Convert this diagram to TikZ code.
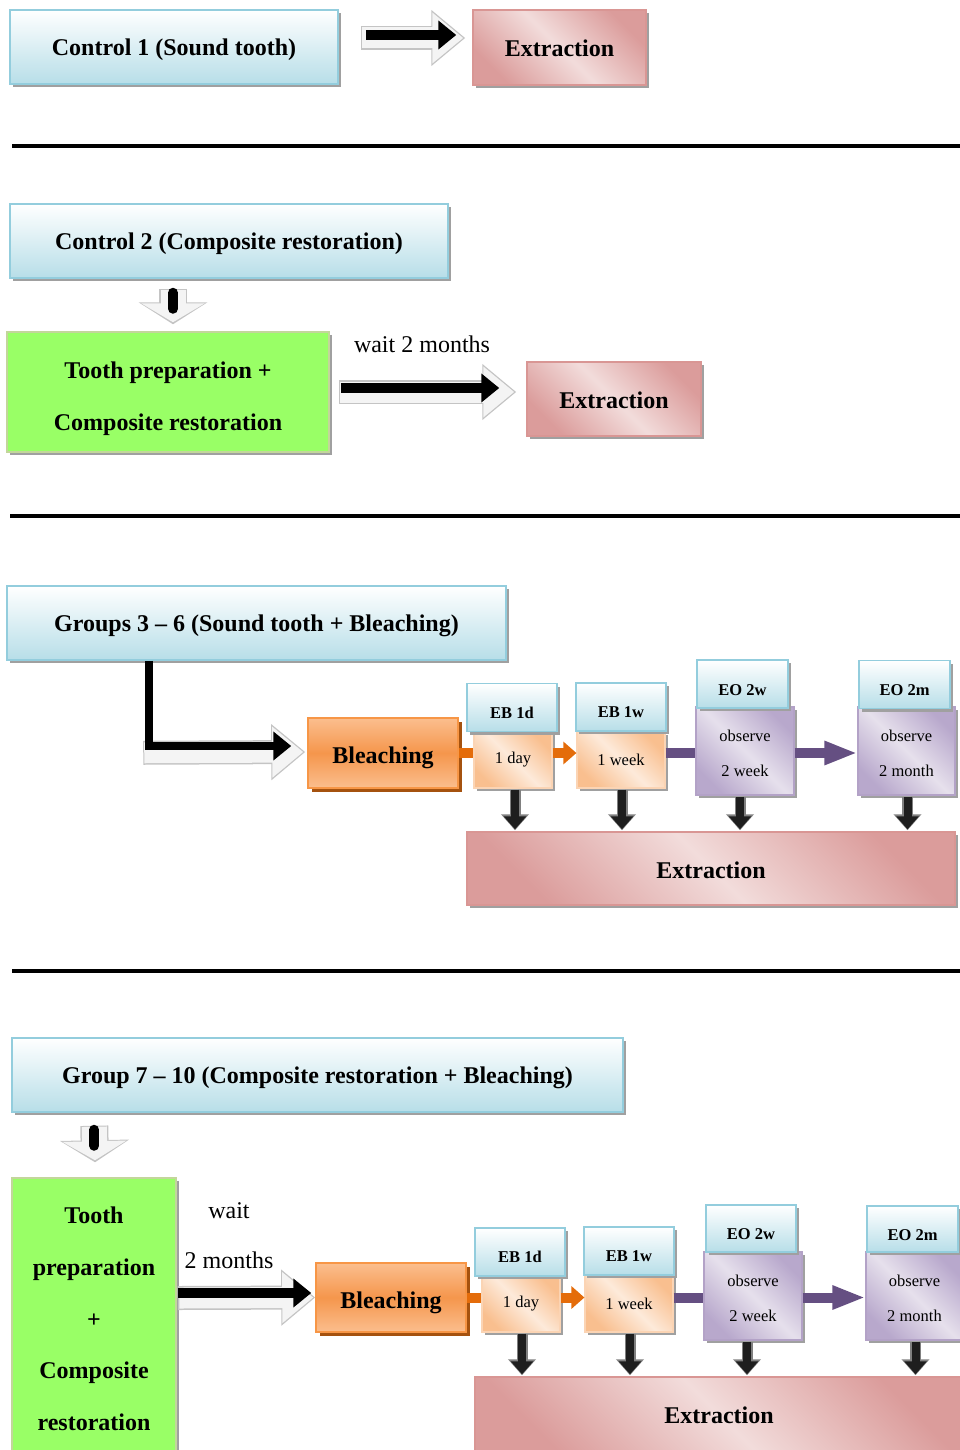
\documentclass[tikz,border=0pt]{standalone}
\usepackage{fontspec}
\setmainfont{Liberation Serif}
\usetikzlibrary{arrows.meta,shadows,calc}
\definecolor{blueB}{HTML}{93CDDD}
\definecolor{blueF}{HTML}{B7DEE8}
\definecolor{pinkB}{HTML}{D99694}
\definecolor{pinkD}{HTML}{DB9C9B}
\definecolor{pinkL}{HTML}{F2DCDB}
\definecolor{greenF}{HTML}{99FF66}
\definecolor{greenB}{HTML}{C3D69B}
\definecolor{orB}{HTML}{F79646}
\definecolor{orS}{HTML}{A5520F}
\definecolor{orT}{HTML}{FBBE8E}
\definecolor{orM}{HTML}{F5964C}
\definecolor{peB}{HTML}{FBD4B4}
\definecolor{peD}{HTML}{F9BF8F}
\definecolor{peL}{HTML}{FDEADA}
\definecolor{lvB}{HTML}{B3A2C7}
\definecolor{lvD}{HTML}{B8A8CC}
\definecolor{lvL}{HTML}{E6E0EC}
\definecolor{puL}{HTML}{654F82}
\definecolor{orL}{HTML}{E46C0A}
\definecolor{shG}{HTML}{A0A0A0}
\definecolor{lgtB}{HTML}{C4C4C4}
\definecolor{lgtF}{HTML}{F4F4F4}
\definecolor{dk}{HTML}{1E1E1E}
\newcommand\lowtxt[2][5pt]{\raisebox{-#1}[\height][\depth]{#2}}
\begin{document}
\begin{tikzpicture}[x=1pt,y=-1pt,
  every node/.style={inner sep=0pt, align=center},
  shd/.style={drop shadow={shadow xshift=3pt,shadow yshift=-3pt,fill=shG,opacity=1}},
  big/.style={font=\bfseries\fontsize{24}{28}\selectfont},
  reg/.style={font=\fontsize{24}{50}\selectfont},
  small/.style={font=\fontsize{16.5}{35}\selectfont},
  smallb/.style={font=\bfseries\fontsize{16.5}{20}\selectfont},
  bluebox/.style={shd, draw=blueB, line width=1.5pt, top color=white, bottom color=blueF},
  pinkbox/.style={shd, draw=pinkB, line width=1.5pt, top color=pinkD, bottom color=pinkD, middle color=pinkL, shading angle=-45, big},
  greenbox/.style={shd, draw=greenB, line width=1.5pt, fill=greenF},
  orbox/.style={drop shadow={shadow xshift=4pt,shadow yshift=-4pt,fill=orS,opacity=1}, draw=orB, line width=1.5pt, top color=orT, bottom color=orT, middle color=orM, big},
  pebox/.style={shd, draw=peB, line width=1.2pt, top color=peD, bottom color=peD, middle color=peL, shading angle=-45, small},
  lvbox/.style={shd, draw=lvB, line width=1.2pt, top color=lvD, bottom color=lvD, middle color=lvL, shading angle=-45, small},
  hdbox/.style={bluebox, smallb, minimum width=90pt, minimum height=48pt},
  sepline/.style={draw=black, line width=4pt},
  blk/.style={draw=black, line width=10pt, -{Triangle[length=18pt,width=28pt]}},
  lgtO/.style={draw=lgtB, line width=24pt, -{Triangle[length=34pt,width=54pt]}},
  lgtI/.style={draw=lgtF, line width=21pt, -{Triangle[length=31pt,width=49pt]}},
  dnO/.style={draw=lgtB, line width=28pt, -{Triangle[length=22pt,width=68pt]}},
  dnI/.style={draw=lgtF, line width=25pt, -{Triangle[length=19pt,width=63pt]}},
  dwnO/.style={draw=gray, line width=11pt, -{Triangle[length=16pt,width=27pt]}},
  dwnI/.style={draw=dk, line width=8pt, -{Triangle[length=13pt,width=22pt]}},
  orln/.style={draw=orL, line width=10pt},
  puln/.style={draw=puL, line width=10pt},
]
\useasboundingbox (0,0) rectangle (960,1450);

% separators
\draw[sepline] (12,146) -- (960,146);
\draw[sepline] (10,516) -- (960,516);
\draw[sepline] (12,971) -- (960,971);

% ---------- section 1
\node[bluebox,big,minimum width=328pt,minimum height=74pt] (c1) at (174,47) {\lowtxt[3pt]{Control 1 (Sound tooth)}};
\node[pinkbox,minimum width=173pt,minimum height=75pt] (ex1) at (559.5,47.5) {\lowtxt[1pt]{Extraction}};
\draw[lgtO] ($(c1.east)+(22,-9)$) -- ($(ex1.west)+(-7,-9.5)$);
\draw[lgtI] ($(c1.east)+(23.5,-9)$) -- ($(ex1.west)+(-9,-9.5)$);
\draw[blk] ($(c1.east)+(27,-12)$) -- ($(ex1.west)+(-16,-12.5)$);

% ---------- section 2
\node[bluebox,big,minimum width=438pt,minimum height=74pt] (c2) at (229,241) {\lowtxt[3pt]{Control 2 (Composite restoration)}};
\node[greenbox,font=\bfseries\fontsize{24}{52}\selectfont,minimum width=322pt,minimum height=120pt] (tp1) at (168,392) {\lowtxt[7pt]{\parbox{300pt}{\centering Tooth preparation +\\Composite restoration}}};
\node[reg] (w1) at (422,344) {wait 2 months};
\node[pinkbox,minimum width=174pt,minimum height=74pt] (ex2) at (614,399) {\lowtxt[1pt]{Extraction}};
\draw[dnO] ($(c2.south)+(-56,10)$) -- ($(tp1.north)+(5,-7)$);
\draw[dnI] ($(c2.south)+(-56,11)$) -- ($(tp1.north)+(5,-9)$);
\draw[draw=black, line width=10pt, line cap=round] ($(c2.south)+(-56,14)$) -- ($(c2.south)+(-56,30)$);
\draw[lgtO] ($(tp1.east)+(9,0)$) -- ($(ex2.west)+(-10,-7)$);
\draw[lgtI] ($(tp1.east)+(10.5,0)$) -- ($(ex2.west)+(-12,-7)$);
\draw[blk] ($(tp1.east)+(11,-4)$) -- ($(ex2.west)+(-27,-11)$);

% ---------- section 3
\node[bluebox,big,minimum width=499pt,minimum height=74pt] (g3) at (256.5,623) {\lowtxt[3pt]{Groups 3 – 6 (Sound tooth + Bleaching)}};
\node[orbox,minimum width=150pt,minimum height=70pt] (bl1) at (383,753) {\lowtxt[5pt]{Bleaching}};
\node[pebox,minimum width=78pt,minimum height=56pt] (d1) at (513,760) {1 day};
\node[hdbox] (h1) at (512,707.5) {\lowtxt{EB 1d}};
\node[pebox,minimum width=88pt,minimum height=56pt] (d2) at (621,760) {1 week};
\node[hdbox] (h2) at (621,707) {\lowtxt{EB 1w}};
\node[lvbox,minimum width=98pt,minimum height=88pt] (o1) at (745,751) {\lowtxt[2pt]{\parbox{90pt}{\centering observe\\2 week}}};
\node[hdbox,minimum width=91pt] (h3) at (742.5,684) {\lowtxt[6pt]{EO 2w}};
\node[lvbox,minimum width=97pt,minimum height=88pt] (o2) at (906.5,751) {\lowtxt[2pt]{\parbox{90pt}{\centering observe\\2 month}}};
\node[hdbox,minimum width=91pt] (h4) at (904.5,684.5) {\lowtxt[6pt]{EO 2m}};
\node[pinkbox,minimum width=488pt,minimum height=73pt] (ex3) at (711,868.5) {\lowtxt[2pt]{Extraction}};

\draw[lgtO] ($(g3.south west)+(137,92)$) -- ($(bl1.west)+(-2,-1)$);
\draw[lgtI] ($(g3.south west)+(138,92)$) -- ($(bl1.west)+(-4,-1)$);
\draw[blk, line width=8pt] ($(g3.south west)+(143,0)$) |- ($(bl1.west)+(-16,-7)$);

\draw[orln] (bl1.east) -- (bl1.east -| d1.west);
\draw[orln, -{Triangle[length=13pt,width=22pt]}] (bl1.east -| d1.east) -- (bl1.east -| d2.west);
\draw[puln] (bl1.east -| d2.east) -- (bl1.east -| o1.west);
\draw[puln, -{Triangle[length=33pt,width=22pt]}] (bl1.east -| o1.east) -- (bl1.east -| o2.west);

\foreach \n/\dx in {d1/2,d2/1,o1/-5,o2/1}{
  \draw[dwnO] ($(\n.south)+(\dx,1)$) -- ($(\n.south |- ex3.north)+(\dx,-1)$);
  \draw[dwnI] ($(\n.south)+(\dx,1)$) -- ($(\n.south |- ex3.north)+(\dx,-2)$);
}

% ---------- section 4
\node[bluebox,big,minimum width=611pt,minimum height=74pt] (g7) at (317.5,1075) {\lowtxt[3pt]{Group 7 – 10 (Composite restoration + Bleaching)}};
\node[greenbox,font=\bfseries\fontsize{24}{51.75}\selectfont,minimum width=164pt,minimum height=282pt] (tp2) at (94,1319) {Tooth\\preparation\\+\\Composite\\restoration};
\node[reg] (w2) at (229,1236) {wait\\2 months};
\node[orbox,minimum width=150pt,minimum height=69pt] (bl2) at (391,1297.5) {\lowtxt[5pt]{Bleaching}};
\node[pebox,minimum width=78pt,minimum height=56pt] (d3) at (521,1304) {1 day};
\node[hdbox] (h5) at (520,1252) {\lowtxt{EB 1d}};
\node[pebox,minimum width=88pt,minimum height=57pt] (d4) at (629,1303.5) {1 week};
\node[hdbox] (h6) at (629,1251) {\lowtxt{EB 1w}};
\node[lvbox,minimum width=98pt,minimum height=88pt] (o3) at (753,1296) {\lowtxt[2pt]{\parbox{90pt}{\centering observe\\2 week}}};
\node[hdbox,minimum height=47pt] (h7) at (751,1228.5) {\lowtxt[6pt]{EO 2w}};
\node[lvbox,minimum width=97pt,minimum height=88pt] (o4) at (914.5,1296) {\lowtxt[2pt]{\parbox{90pt}{\centering observe\\2 month}}};
\node[hdbox,minimum width=91pt,minimum height=46pt] (h8) at (912.5,1229) {\lowtxt[6pt]{EO 2m}};
\node[pinkbox,minimum width=488pt,minimum height=75pt] (ex4) at (719,1414.5) {\lowtxt[1pt]{Extraction}};

\draw[dnO] ($(g7.south west)+(83,13)$) -- ($(tp2.north)+(1,-15)$);
\draw[dnI] ($(g7.south west)+(83,14)$) -- ($(tp2.north)+(1,-17)$);
\draw[draw=black, line width=10pt, line cap=round] ($(g7.south west)+(83,17)$) -- ($(g7.south west)+(83,33)$);
\draw[lgtO] ($(tp2.east)+(1,-21)$) -- ($(bl2.west)+(0,0)$);
\draw[lgtI] ($(tp2.east)+(2.5,-21)$) -- ($(bl2.west)+(-2,0)$);
\draw[blk] ($(tp2.east)+(1,-26)$) -- ($(bl2.west)+(-4,-4.5)$);

\draw[orln] (bl2.east) -- (bl2.east -| d3.west);
\draw[orln, -{Triangle[length=13pt,width=22pt]}] (bl2.east -| d3.east) -- (bl2.east -| d4.west);
\draw[puln] (bl2.east -| d4.east) -- (bl2.east -| o3.west);
\draw[puln, -{Triangle[length=33pt,width=22pt]}] (bl2.east -| o3.east) -- (bl2.east -| o4.west);

\foreach \n/\dx in {d3/1,d4/1,o3/-6,o4/1}{
  \draw[dwnO] ($(\n.south)+(\dx,1)$) -- ($(\n.south |- ex4.north)+(\dx,-1)$);
  \draw[dwnI] ($(\n.south)+(\dx,1)$) -- ($(\n.south |- ex4.north)+(\dx,-2)$);
}
\end{tikzpicture}
\end{document}
